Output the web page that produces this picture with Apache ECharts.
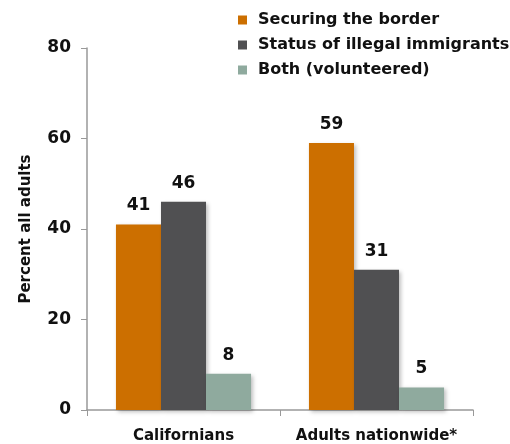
<!DOCTYPE html>
<html><head><meta charset="utf-8">
<script src="https://cdn.jsdelivr.net/npm/echarts@6/dist/echarts.min.js"></script>
<style>html,body{margin:0;padding:0;background:#fff}#c{width:510px;height:444px}</style>
</head><body><div id="c"></div>
<script>
const categories = ['Californians', 'Adults nationwide*'];
const seriesNames = ['Securing the border', 'Status of illegal immigrants', 'Both (volunteered)'];
const border = [41, 59];
const status = [46, 31];
const both = [8, 5];
const yTicks = [0, 20, 40, 60, 80];
const colors = ['#CC6F00', '#505052', '#8FAA9E'];
const font = '"DejaVu Sans", sans-serif';
const chart = echarts.init(document.getElementById('c'));
const mk = (name, data, color) => ({
  name, type: 'bar', data, barGap: '0%', barCategoryGap: '30%',
  itemStyle: { color, shadowColor: 'rgba(0,0,0,0.25)', shadowBlur: 4, shadowOffsetX: 2, shadowOffsetY: 2 },
  label: { show: true, position: 'top', distance: 10, color: '#111', fontFamily: font, fontWeight: 'bold', fontSize: 17 }
});
chart.setOption({
  animation: false,
  grid: { left: 87, right: 37, top: 48, bottom: 33 },
  legend: {
    orient: 'vertical', left: 233, top: 7, itemWidth: 9, itemHeight: 9, itemGap: 9, icon: 'rect',
    textStyle: { fontFamily: font, fontWeight: 'bold', fontSize: 16, color: '#111', padding: [0,0,0,6] },
    data: seriesNames
  },
  xAxis: {
    type: 'category', data: categories,
    axisLine: { lineStyle: { color: '#999', width: 1.5 } },
    axisTick: { show: true, interval: 0, length: 6, lineStyle: { color: '#999' } },
    axisLabel: { interval: 0, fontFamily: font, fontWeight: 'bold', fontSize: 15, color: '#111', margin: 19 }
  },
  yAxis: {
    type: 'value', min: yTicks[0], max: yTicks[yTicks.length-1], interval: 20,
    name: 'Percent all adults', nameLocation: 'middle', nameGap: 53, nameRotate: 90,
    nameTextStyle: { fontFamily: font, fontWeight: 'bold', fontSize: 15, color: '#111' },
    axisLine: { show: true, lineStyle: { color: '#999', width: 1.5 } },
    axisTick: { show: true, length: 6, lineStyle: { color: '#999' } },
    splitLine: { show: false },
    axisLabel: { fontFamily: font, fontWeight: 'bold', fontSize: 17, color: '#111', margin: 16 }
  },
  series: [mk(seriesNames[0], border, colors[0]), mk(seriesNames[1], status, colors[1]), mk(seriesNames[2], both, colors[2])]
});
</script></body></html>
